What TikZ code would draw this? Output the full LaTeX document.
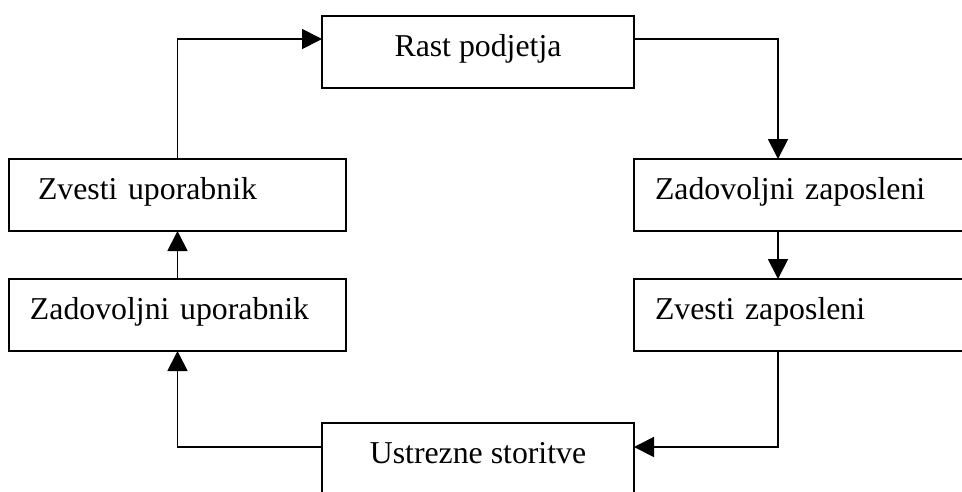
\documentclass[tikz,border=0pt]{standalone}
\usepackage{fontspec}
\setmainfont{Liberation Serif}
\usetikzlibrary{arrows.meta}
\begin{document}
\begin{tikzpicture}[x=1pt,y=-1pt,
  box/.style={draw, line width=1.8pt, outer sep=0pt, minimum height=72pt,
    font=\fontsize{31.8}{36}\selectfont, text height=18pt, text depth=10pt,
    inner ysep=0pt, anchor=north west},
  lbox/.style={box, align=left, inner xsep=21pt},
  conn/.style={line width=1.8pt, -{Triangle[length=20pt,width=20pt]}}]
\clip (0,0) rectangle (962,491);
\node[box, minimum width=312pt] (rast) at (322,16) {Rast podjetja};
\node[lbox, inner xsep=29pt, text width=279pt] (zu) at (9,159) {Zvesti uporabnik};
\node[lbox, text width=295pt] (du) at (9,279) {Zadovoljni uporabnik};
\node[lbox, text width=314pt] (zz) at (634,159) {Zadovoljni zaposleni};
\node[lbox, text width=314pt] (zs) at (634,279) {Zvesti zaposleni};
\node[box, minimum width=312pt] (us) at (322,423) {Ustrezne storitve};
\draw[conn] (zu.north) |- ([yshift=-23pt]rast.north west);
\draw[conn] ([yshift=-23pt]rast.north east) -| ([xshift=144pt]zz.north west);
\draw[conn] ([xshift=144pt]zz.south west) -- ([xshift=144pt]zs.north west);
\draw[conn] ([xshift=144pt]zs.south west) |- ([yshift=-24pt]us.north east);
\draw[conn] ([yshift=-24pt]us.north west) -| (du.south);
\draw[conn] (du.north) -- (zu.south);
\end{tikzpicture}
\end{document}
